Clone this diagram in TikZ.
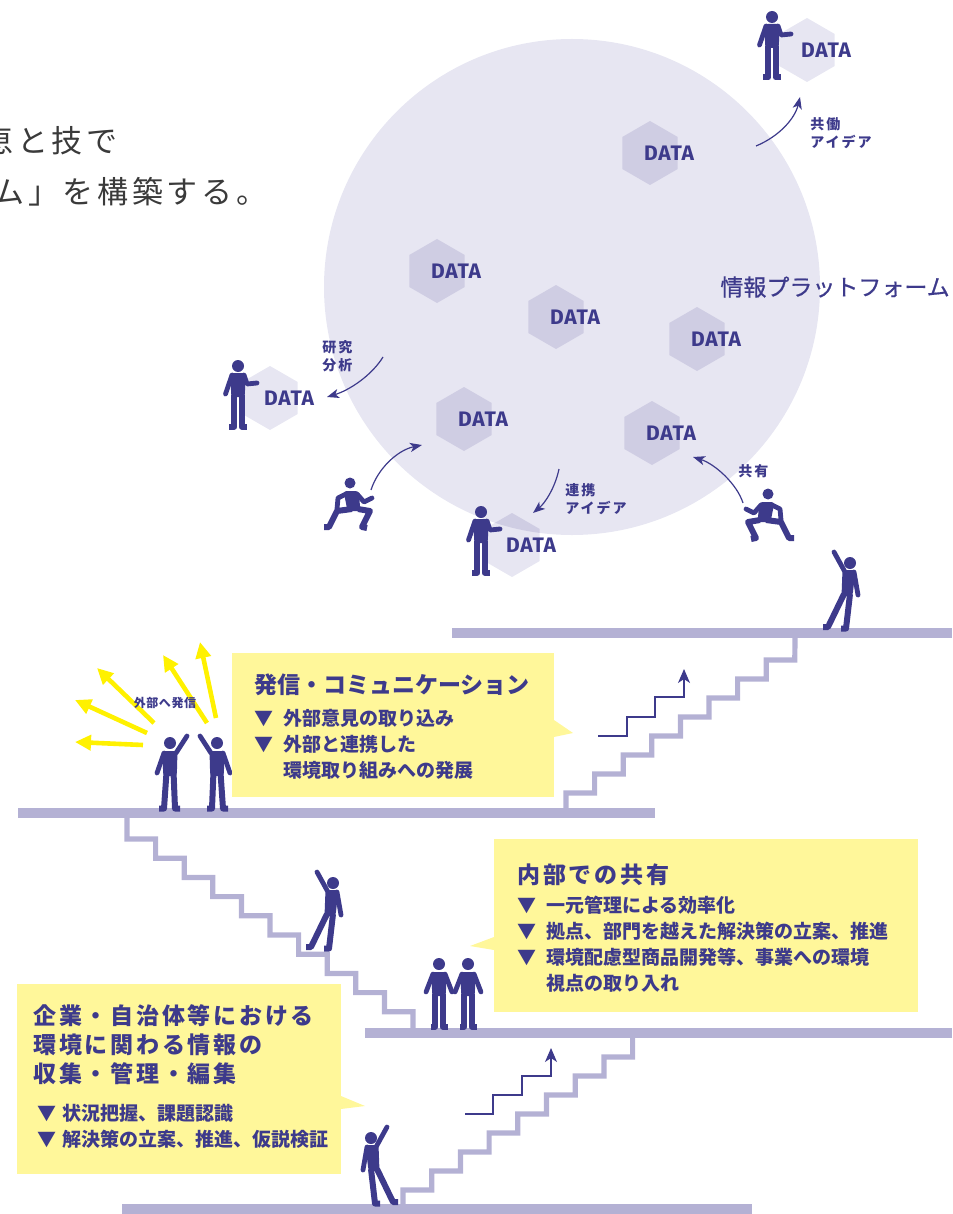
\documentclass[tikz,border=0pt]{standalone}
\usepackage{fontspec}
\usetikzlibrary{shapes.geometric,arrows.meta}
\newfontfamily\jp{Noto Sans CJK JP}
\newfontfamily\datafont{Fira Sans}

\definecolor{ink}{HTML}{3D3A8B}
\definecolor{floorc}{HTML}{B4B1D4}
\definecolor{disc}{HTML}{E7E6F2}
\definecolor{hexc}{HTML}{CFCDE3}
\definecolor{memoc}{HTML}{FFF79A}
\definecolor{beam}{HTML}{FFF100}
\definecolor{headc}{HTML}{3A3A3A}

\tikzset{
  floor/.style={draw=floorc, line width=5.25pt},
  stair/.style={draw=floorc, line width=2.6pt},
  limb/.style={draw=ink, line width=3pt, line join=round},
  arm/.style={draw=ink, line width=2.4pt, line cap=round, line join=round},
  link/.style={draw=ink, line width=0.6pt, -{Stealth[length=6pt,width=4.6pt,inset=1.6pt]}},
  climb/.style={draw=ink, line width=0.6pt, -{Stealth[length=7pt,width=6pt,inset=2pt]}},
  burst/.style={draw=beam, line width=2.3pt, -{Triangle[length=8pt,width=7.5pt]}},
  memo/.style={fill=memoc},
  hexa/.style={regular polygon, regular polygon sides=6, regular polygon rotate=30,
    fill=hexc, minimum size=32pt, inner sep=0pt},
  datatxt/.style={font=\datafont\bfseries\fontsize{10.5}{12}\selectfont\addfontfeature{LetterSpace=4},
    text=ink, inner sep=0pt},
  headline/.style={font=\jp\fontsize{15.5}{18}\selectfont\addfontfeature{LetterSpace=12},
    text=headc, inner sep=0pt},
  platlabel/.style={font=\jp\fontsize{11.5}{13}\selectfont\addfontfeature{FakeBold=0.6},
    text=ink, inner sep=0pt},
  tag/.style={font=\jp\bfseries\fontsize{7}{9}\selectfont\addfontfeature{LetterSpace=14},
    text=ink, align=left, inner sep=0pt},
  tagsmall/.style={font=\jp\bfseries\fontsize{6}{7}\selectfont\addfontfeature{LetterSpace=5},
    text=ink, inner sep=0pt},
  boxtitle/.style={font=\jp\bfseries\fontsize{11.5}{14.5}\selectfont,
    text=ink, align=left, inner sep=0pt},
  widetitle/.style={font=\jp\bfseries\fontsize{11.5}{14.5}\selectfont\addfontfeature{LetterSpace=12},
    text=ink, align=left, inner sep=0pt},
  boxitem/.style={font=\jp\bfseries\fontsize{9.5}{13}\selectfont,
    text=ink, align=left, inner sep=0pt},
  % figures, origin between the feet
  presenter/.pic={
    \fill[ink] (0,-62) circle (6);
    \fill[ink, rounded corners=1.5pt] (-7.5,-55) -- (7.5,-55) -- (6.8,-31) -- (-6.8,-31) -- cycle;
    \draw[limb] (-3.6,-33) -- (-3.6,-1.5) -- (-9,-1.5);
    \draw[limb] (3.6,-33) -- (3.6,-1.5) -- (9,-1.5);
    \draw[arm] (-6,-53) -- (-12.5,-34);
    \draw[arm] (6,-53) -- (9,-44) -- (19,-45);
  },
  cheer/.pic={
    \fill[ink] (0,-67) circle (6);
    \fill[ink, rounded corners=1.5pt] (-7.5,-59) -- (7.5,-59) -- (6.8,-34) -- (-6.8,-34) -- cycle;
    \draw[limb] (-3.6,-36) -- (-6,-1.5) -- (-11,-1.5);
    \draw[limb] (3.6,-36) -- (5,-1.5) -- (10,-1.5);
    \draw[arm] (-6,-57) -- (-13,-37);
    \draw[arm] (6,-57) -- (17,-74);
  },
  reacher/.pic={
    \fill[ink] (10,-67) circle (6);
    \fill[ink, rounded corners=1.5pt] (2.5,-60) -- (15.5,-60) -- (12.5,-34) -- (1.5,-34) -- cycle;
    \draw[arm] (5,-58) -- (-6,-78);
    \draw[arm] (14,-58) -- (18,-35);
    \draw[limb] (4,-36) -- (-12,-3) -- (-17,-3);
    \draw[limb] (10,-36) -- (6,-1.5) -- (1,-1.5);
  },
  walker/.pic={
    \fill[ink] (0,-64) circle (6);
    \fill[ink, rounded corners=1.5pt] (-7.5,-56) -- (7.5,-56) -- (6.8,-32) -- (-6.8,-32) -- cycle;
    \draw[limb] (-3.6,-34) -- (-3.6,-1.5) -- (-8.5,-1.5);
    \draw[limb] (3.6,-34) -- (3.6,-1.5) -- (8.5,-1.5);
    \draw[arm] (-6,-54) -- (-13,-36);
    \draw[arm] (6,-54) -- (13,-36);
  },
  % origin at the head
  jumper/.pic={
    \fill[ink] (0,0) circle (5.5);
    \fill[ink, rounded corners=1.5pt] (-6.5,8) -- (8.5,8) -- (10.5,28) -- (-2.5,28) -- cycle;
    \draw[arm] (7,11) -- (14,19) -- (22,15);
    \draw[arm] (-4,11) -- (-12,15) -- (-13,26);
    \draw[limb] (2,26) -- (-13,28) -- (-21,44) -- (-26,44);
    \draw[limb] (8,26) -- (20,28) -- (12,44) -- (17,45);
  },
}

\begin{document}
\begin{tikzpicture}[x=0.5pt,y=-0.5pt]
\useasboundingbox (0,0) rectangle (952,1214);

% headline
\node[headline, anchor=west] (hl1) at (-18,141) {恵と技で};
\node[headline, anchor=west] (hl2) at (-7,192) {ム」を構築する。};

% the platform
\fill[disc] (572,287) circle (248);
\node[platlabel, anchor=west] (plat) at (720,287) {情報プラットフォーム};

\foreach \n/\hx/\hy in {1/650/153, 2/437/271, 3/556/317, 4/697/339, 5/464/419, 6/652/433}
  \node[hexa] (h\n) at (\hx,\hy) {};
\foreach \n/\hx/\hy in {7/807/50, 8/270/398, 9/512/545}
  \node[hexa, fill=disc] (h\n) at (\hx,\hy) {};
\begin{scope}
  \clip (572,287) circle (248);
  \node[hexa] (h9in) at (h9) {};
\end{scope}
\foreach \n in {1,...,9}
  \node[datatxt] (d\n) at ([xshift=9.5pt]h\n.center) {DATA};

% people around the platform
\pic at (772,79) {presenter};
\pic at (238,428) {presenter};
\pic at (481,574) {presenter};
\pic at (350,483) {jumper};
\pic[xscale=-1] at (768,494) {jumper};

\coordinate (a1s) at (756,146); \coordinate (a1e) at (800,97);
\coordinate (a2s) at (383,357); \coordinate (a2e) at (327,397);
\coordinate (a3s) at (371,490); \coordinate (a3e) at (422,445);
\coordinate (a4s) at (559,469); \coordinate (a4e) at (533,513);
\coordinate (a5s) at (743,503); \coordinate (a5e) at (693,457);
\draw[link] (a1s) .. controls +(24,-10) and +(-5,21) .. (a1e);
\draw[link] (a2s) .. controls +(-11,18) and +(23,-7) .. (a2e);
\draw[link] (a3s) .. controls +(7,-22) and +(-24,5) .. (a3e);
\draw[link] (a4s) .. controls +(-4,19) and +(12,-10) .. (a4e);
\draw[link] (a5s) .. controls +(-6,-19) and +(22,7) .. (a5e);
\node[tag, anchor=north west] (tg1) at (810,117) {共働\\アイデア};
\node[tag, anchor=north west] (tg2) at (322,340) {研究\\分析};
\node[tag, anchor=north west] (tg3) at (565,483) {連携\\アイデア};
\node[tag, anchor=west] (tg4) at (738,471) {共有};

% floors and stairs
\draw[floor] (452,633) -- (952,633);
\draw[floor] (18,813) -- (655,813);
\draw[floor] (365,1033) -- (952,1033);
\draw[floor] (122,1209) -- (752,1209);
\draw[stair] (566,813) -- ++(0,-20)
  \foreach \i in {1,...,7}{ -- ++(28.6,0) -- ++(0,-19)} -- ++(28.6,0) -- (795,633);
\draw[stair] (127,813) -- ++(0,26)
  \foreach \i in {1,...,9}{ -- ++(28.6,0) -- ++(0,19.2)} -- ++(28.6,0) -- (413,1033);
\draw[stair] (403,1209) -- ++(0,-19)
  \foreach \i in {1,...,7}{ -- ++(28.7,0) -- ++(0,-19)} -- ++(28.7,0) -- (632.6,1033);

\coordinate (g1s) at (598,736); \coordinate (g1e) at (684,669);
\draw[climb] (g1s) -- ++(29,0) -- ++(0,-19) -- ++(28,0) -- ++(0,-20) -- ++(29,0) -- (g1e);
\coordinate (g2s) at (465,1114); \coordinate (g2e) at (551,1048);
\draw[climb] (g2s) -- ++(28,0) -- ++(0,-19) -- ++(29,0) -- ++(0,-19) -- ++(29,0) -- (g2e);

\pic at (840,630) {reacher};
\pic at (323,950) {reacher};
\pic[xscale=-1] at (381,1205) {reacher};
\pic at (170,810) {cheer};
\pic[xscale=-1] at (217,810) {cheer};
\pic at (439,1028) {walker};
\pic at (468,1028) {walker};

% sending out
\foreach \i/\sx/\sy/\ex/\ey in {1/143/745/75/742, 2/147/733/75/700, 3/154/723/97/668,
    4/207/723/163/655, 5/216/718/200/642}{
  \coordinate (bs\i) at (\sx,\sy);
  \coordinate (be\i) at (\ex,\ey);
  \draw[burst] (bs\i) -- (be\i);
}
\node[tagsmall] (tg5) at (165,703) {外部へ発信};

% notes
\fill[memo] (232,653) rectangle (554,797);
\fill[memo] (554,720) -- (573,733) -- (554,737) -- cycle;
\node[boxtitle, anchor=west] (t1) at (254,685) {発信・コミュニケーション};
\node[boxitem, anchor=north west] (i1) at (254,709)
  {▼\hspace{5pt}外部意見の取り込み\\▼\hspace{5pt}外部と連携した\\\phantom{▼}\hspace{5pt}環境取り組みへの発展};

\fill[memo] (494,839) rectangle (918,1012);
\fill[memo] (494,937) -- (470,946) -- (494,950) -- cycle;
\node[widetitle, anchor=west] (t2) at (517,875) {内部での共有};
\node[boxitem, anchor=north west] (i2) at (517,896)
  {▼\hspace{5pt}一元管理による効率化\\▼\hspace{5pt}拠点、部門を越えた解決策の立案、推進\\
   ▼\hspace{5pt}環境配慮型商品開発等、事業への環境\\\phantom{▼}\hspace{5pt}視点の取り入れ};

\fill[memo] (17,984) rectangle (341,1174);
\fill[memo] (341,1096) -- (365,1106) -- (341,1109) -- cycle;
\node[widetitle, anchor=north west] (t3) at (33,1004)
  {企業・自治体等における\\環境に関わる情報の\\収集・管理・編集};
\node[boxitem, anchor=north west] (i3) at (37,1104)
  {▼\hspace{3pt}状況把握、課題認識\\▼\hspace{3pt}解決策の立案、推進、仮説検証};
\end{tikzpicture}
\end{document}
